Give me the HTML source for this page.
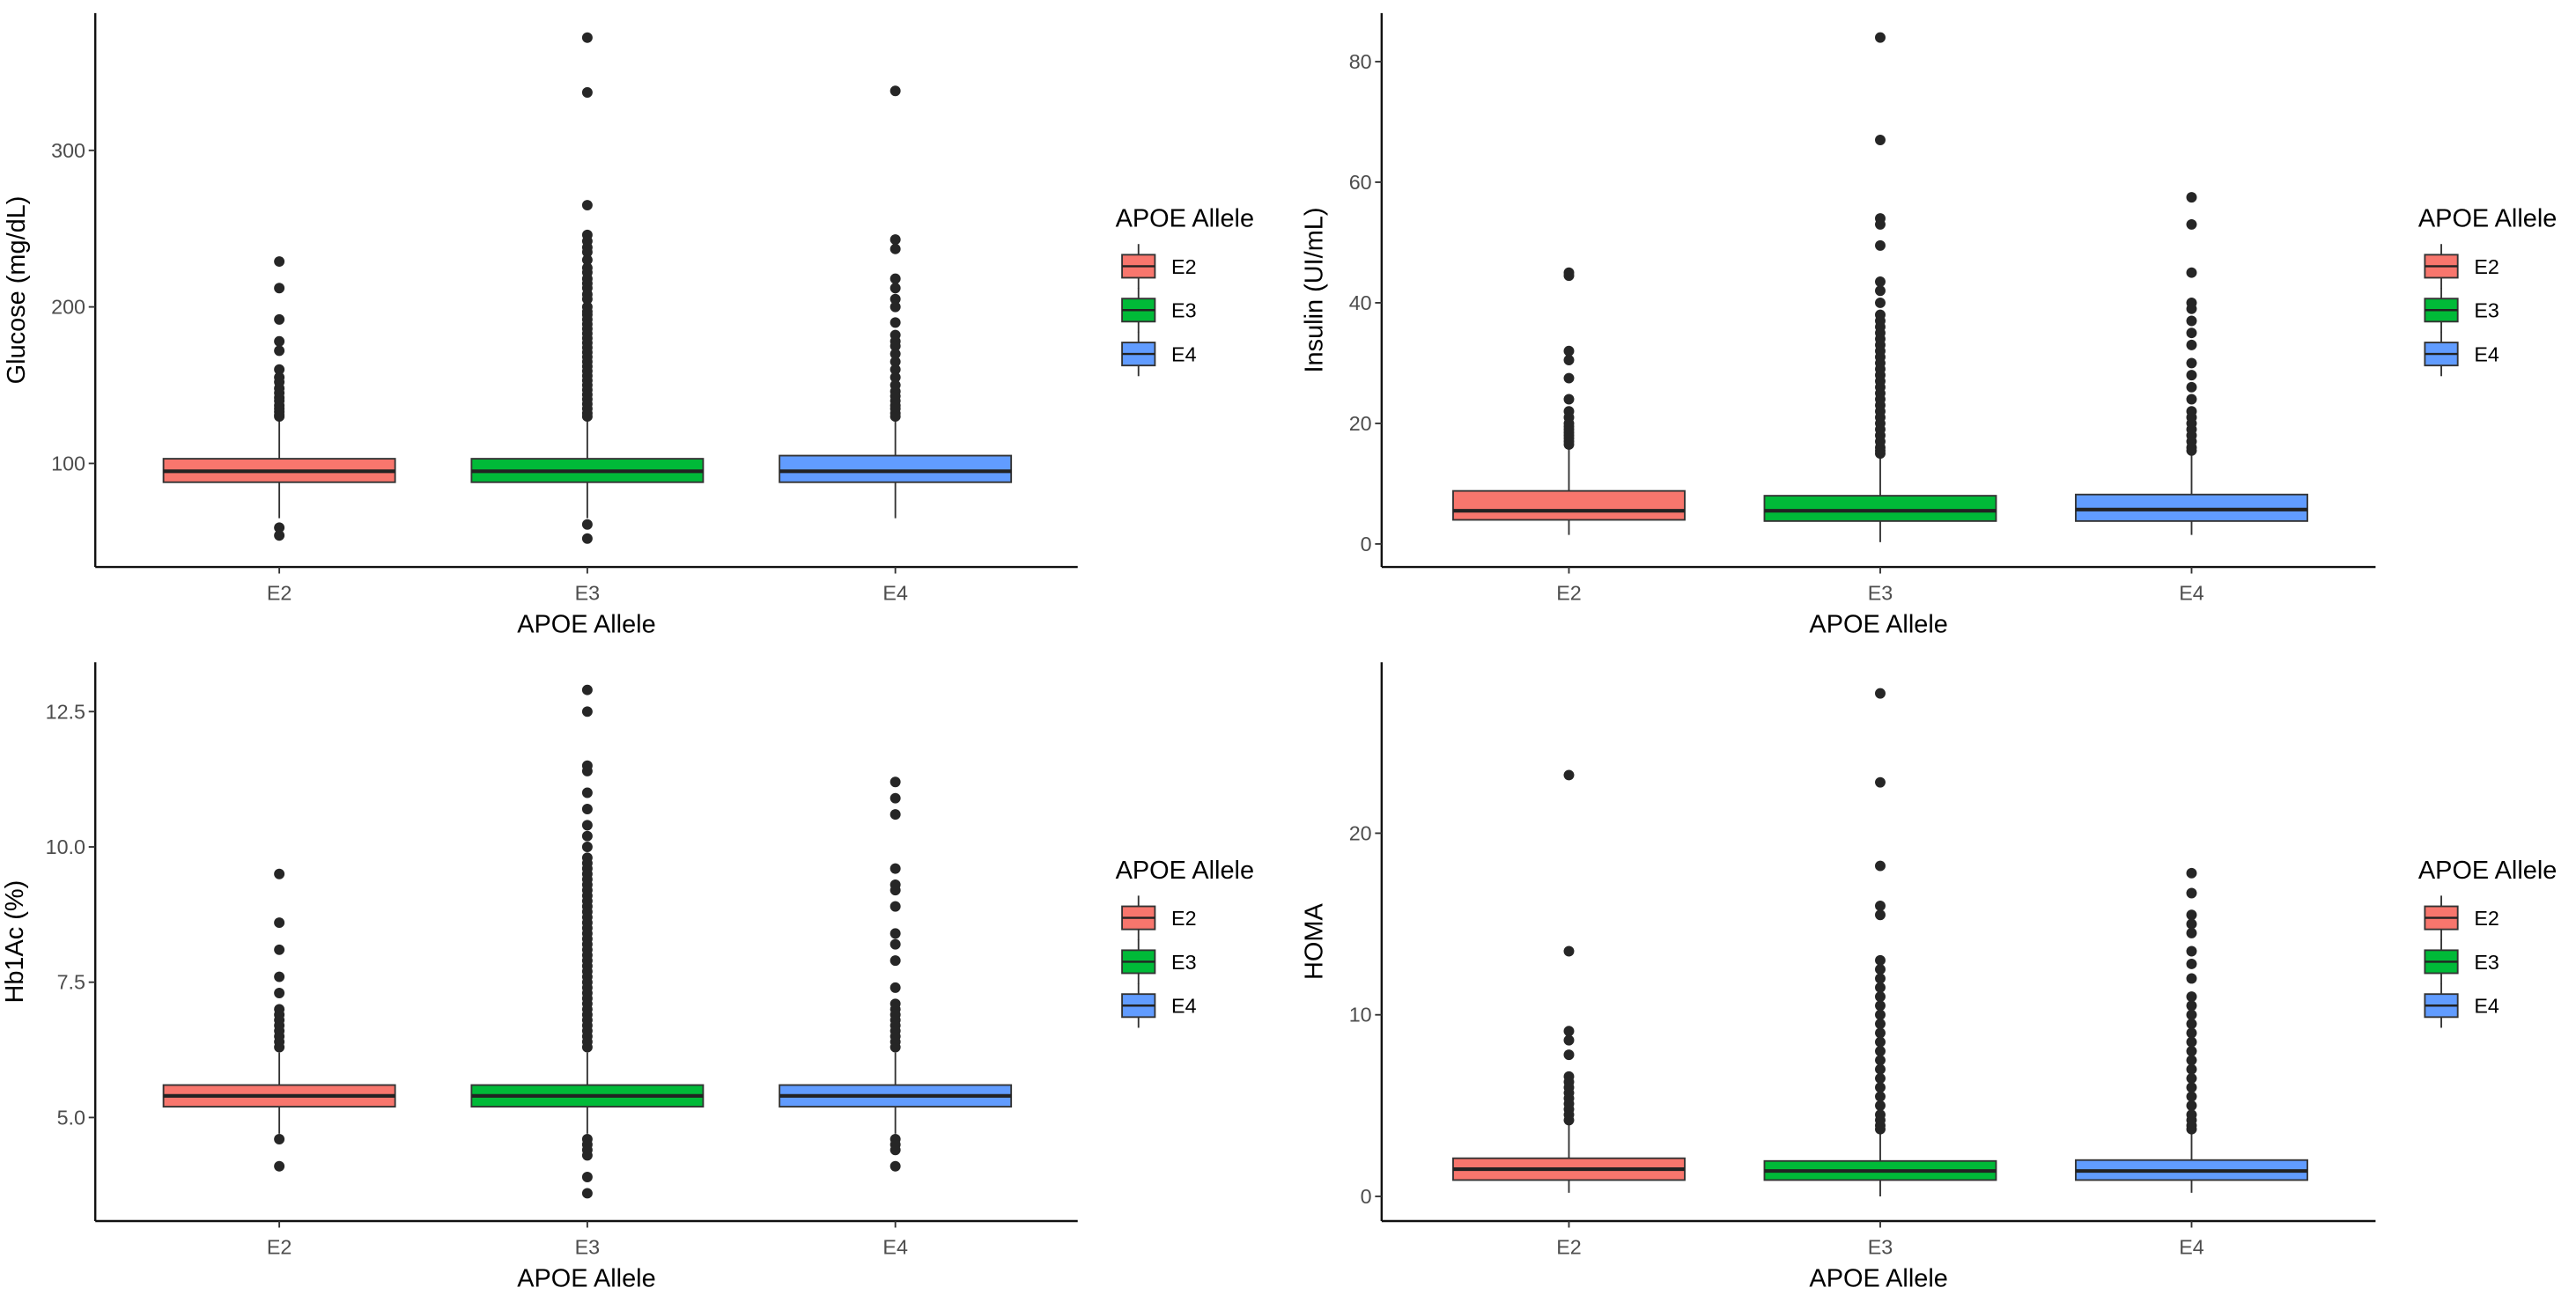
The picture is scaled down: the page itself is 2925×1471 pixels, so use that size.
<!DOCTYPE html>
<html><head><meta charset="utf-8"><style>
html,body{margin:0;padding:0;background:#fff;}
svg{display:block;}
text{font-family:"Liberation Sans",sans-serif;}
</style></head><body>
<svg id="chart" width="2925" height="1471" viewBox="0 0 1568 788" preserveAspectRatio="none" xmlns="http://www.w3.org/2000/svg"></svg>
<script>
const categories = ["E2","E3","E4"];
const colors = ["#F8766D","#00BA38","#619CFF"];
// Glucose
const glucoseBoxes = [[65,88,95,103,127],[65,88,95,103,127],[65,88,95,105,129]];
const glucoseOut = [
 [229,212,192,178,172,160,155,152,148,145,142,140,137,135,133,131,130,59,54],
 [372,337,265,246,242,238,235,230,225,222,218,215,212,208,205,200,197,195,192,189,186,183,180,177,174,171,168,165,162,159,156,153,150,147,144,141,138,135,132,130,61,52],
 [338,243,237,218,212,205,200,190,182,178,175,170,165,160,155,150,146,143,140,137,135,132,130]
];
const glucoseTicks = [100,200,300];
// Insulin
const insulinBoxes = [[1.5,4,5.5,8.8,16],[0.3,3.8,5.5,8,14.5],[1.5,3.8,5.7,8.2,14.8]];
const insulinOut = [
 [45,44.5,32,30.5,27.5,24,22,21,20,19.5,19,18.5,18,17.5,17,16.5],
 [84,67,54,53,49.5,43.5,42,40,38,37,36,35,34,33,32,31,30,29,28,27,26,25,24,23,22,21,20,19,18,17,16,15.5,15],
 [57.5,53,45,40,39,37,35,33,30,28,26,24,22,21,20,19,18,17,16,15.5]
];
const insulinTicks = [0,20,40,60,80];
// Hb1Ac
const hbBoxes = [[4.7,5.2,5.4,5.6,6.2],[4.7,5.2,5.4,5.6,6.2],[4.7,5.2,5.4,5.6,6.2]];
const hbOut = [
 [9.5,8.6,8.1,7.6,7.3,7.0,6.9,6.8,6.7,6.6,6.5,6.4,6.3,4.6,4.1],
 [12.9,12.5,11.5,11.4,11.0,10.7,10.4,10.2,10.0,9.8,9.7,9.6,9.5,9.4,9.3,9.2,9.1,9.0,8.9,8.8,8.7,8.6,8.5,8.4,8.3,8.2,8.1,8.0,7.9,7.8,7.7,7.6,7.5,7.4,7.3,7.2,7.1,7.0,6.9,6.8,6.7,6.6,6.5,6.4,6.3,4.6,4.5,4.4,4.3,3.9,3.6],
 [11.2,10.9,10.6,9.6,9.3,9.2,8.9,8.4,8.2,7.9,7.4,7.1,7.0,6.9,6.8,6.7,6.6,6.5,6.4,6.3,4.6,4.5,4.4,4.1]
];
const hbTicks = [5.0,7.5,10.0,12.5];
// HOMA
const homaBoxes = [[0.2,0.9,1.5,2.1,4.0],[0,0.9,1.4,1.95,3.6],[0.2,0.9,1.4,2.0,3.6]];
const homaOut = [
 [23.2,13.5,9.1,8.6,7.8,6.6,6.3,6.0,5.7,5.4,5.1,4.8,4.5,4.2],
 [27.7,22.8,18.2,16,15.5,13,12.5,12,11.5,11,10.5,10,9.5,9,8.5,8,7.5,7,6.5,6,5.5,5,4.5,4.2,3.9,3.7],
 [17.8,16.7,15.5,15,14.5,13.5,12.8,12,11,10.5,10,9.5,9,8.5,8,7.5,7,6.5,6,5.5,5,4.5,4.2,3.9,3.7]
];
const homaTicks = [0,10,20];

const NS="http://www.w3.org/2000/svg";
const svg=document.getElementById('chart');
function mk(tag,attrs,parent){const e=document.createElementNS(NS,tag);for(const k in attrs)e.setAttribute(k,attrs[k]);(parent||svg).appendChild(e);return e;}

function panel(cfg){
  const g=mk('g',{});
  
  
  const x0=cfg.x0, yTop=cfg.yTop, yBot=cfg.yBot, xR=cfg.x0+cfg.w;
  const y=v=>cfg.py0+(v-cfg.v0)*(cfg.py1-cfg.py0)/(cfg.v1-cfg.v0);
  const xc=i=>x0+cfg.off+i*cfg.sp;
  const bw=141;
  categories.forEach((c,i)=>{
    const b=cfg.boxes[i];const cx=xc(i);
    const bg=mk('g',{},g);
    
    
    mk('line',{x1:cx,x2:cx,y1:y(b[0]),y2:y(b[1]),stroke:'#333','stroke-width':1},bg);
    mk('line',{x1:cx,x2:cx,y1:y(b[3]),y2:y(b[4]),stroke:'#333','stroke-width':1},bg);
    mk('rect',{x:cx-bw/2,y:y(b[3]),width:bw,height:y(b[1])-y(b[3]),fill:colors[i],stroke:'#333','stroke-width':1},bg);
    mk('line',{x1:cx-bw/2,x2:cx+bw/2,y1:y(b[2]),y2:y(b[2]),stroke:'#222','stroke-width':2.2},bg);
    cfg.out[i].forEach(v=>{
      const p=mk('circle',{cx:cx,cy:y(v),r:3.2,fill:'#262626'},bg);
      
      
    });
  });
  const ya=mk('line',{x1:x0,x2:x0,y1:yTop,y2:yBot,stroke:'#111','stroke-width':1.3},g);
  
  const xa=mk('line',{x1:x0,x2:xR,y1:yBot,y2:yBot,stroke:'#111','stroke-width':1.3},g);
  
  cfg.ticks.forEach(t=>{
    mk('line',{x1:x0-4,x2:x0,y1:y(t),y2:y(t),stroke:'#333','stroke-width':1},g);
    const tl=mk('text',{x:x0-6,y:y(t)+4.3,'text-anchor':'end','font-size':12.5,fill:'#4d4d4d'},g);
    tl.textContent=cfg.fmt?t.toFixed(1):t;
    
  });
  categories.forEach((c,i)=>{
    mk('line',{x1:xc(i),x2:xc(i),y1:yBot,y2:yBot+4,stroke:'#333','stroke-width':1},g);
    const tl=mk('text',{x:xc(i),y:yBot+20,'text-anchor':'middle','font-size':12.5,fill:'#4d4d4d'},g);
    tl.textContent=c;
    
  });
  const xt=mk('text',{x:x0+cfg.w/2,y:yBot+40,'text-anchor':'middle','font-size':15.5,fill:'#000'},g);
  xt.textContent='APOE Allele';
  
  const ymid=(yTop+yBot)/2;
  const yt=mk('text',{x:0,y:0,'text-anchor':'middle','font-size':15.5,fill:'#000',transform:`translate(${x0-cfg.yto},${ymid}) rotate(-90)`},g);
  yt.textContent=cfg.ytitle;
  
  const lg=mk('g',{},g);
  
  const lx=cfg.lx;
  const ltt=mk('text',{x:lx,y:ymid-38.5,'font-size':15.5,fill:'#000'},lg);
  ltt.textContent='APOE Allele';
  
  categories.forEach((c,i)=>{
    const ky=ymid-14.5+i*26.7;
    const e=mk('g',{},lg);
    
    
    mk('line',{x1:lx+14,x2:lx+14,y1:ky-13.5,y2:ky+13.5,stroke:'#333','stroke-width':1},e);
    mk('rect',{x:lx+4,y:ky-7,width:20,height:14,fill:colors[i],stroke:'#333','stroke-width':1},e);
    mk('line',{x1:lx+4,x2:lx+24,y1:ky,y2:ky,stroke:'#222','stroke-width':1.3},e);
    const t=mk('text',{x:lx+34,y:ky+4.5,'font-size':12.5,fill:'#000'},e);
    t.textContent=c;
  });
}
const L={x0:58,off:112,sp:187.5,w:598,lx:679};
const R={x0:841,off:114,sp:189.5,w:605,lx:1472};
panel({name:'glucose',...L,yto:43,yTop:8,yBot:345,py0:282,v0:100,py1:91.5,v1:300,boxes:glucoseBoxes,out:glucoseOut,ticks:glucoseTicks,ytitle:'Glucose (mg/dL)'});
panel({name:'insulin',...R,yto:36,yTop:8,yBot:345,py0:331,v0:0,py1:37.5,v1:80,boxes:insulinBoxes,out:insulinOut,ticks:insulinTicks,ytitle:'Insulin (UI/mL)'});
panel({name:'hb1ac',...L,yto:44,yTop:403,yBot:743,py0:680,v0:5,py1:433,v1:12.5,boxes:hbBoxes,out:hbOut,ticks:hbTicks,ytitle:'Hb1Ac (%)',fmt:true});
panel({name:'homa',...R,yto:36,yTop:403,yBot:743,py0:728,v0:0,py1:507,v1:20,boxes:homaBoxes,out:homaOut,ticks:homaTicks,ytitle:'HOMA'});
</script>
</body></html>
